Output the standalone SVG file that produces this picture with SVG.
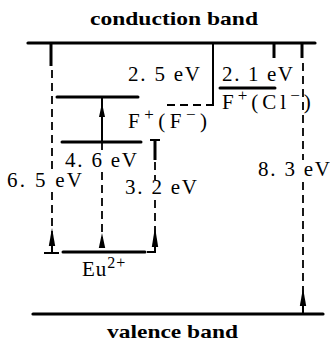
<svg xmlns="http://www.w3.org/2000/svg" width="330" height="350" viewBox="0 0 330 350">
<style>
.band{stroke:#000;stroke-width:3.2;fill:none;stroke-linecap:round}
.lvl{stroke:#000;stroke-width:3;fill:none;stroke-linecap:round}
.solid{stroke:#000;stroke-width:2;fill:none}
.thick{stroke:#000;stroke-width:3;fill:none}
.dash{stroke:#000;stroke-width:1.8;fill:none;stroke-dasharray:8 5}
.ah{fill:#000;stroke:none}
text{font-family:"Liberation Serif","Times New Roman",serif;fill:#000}
.lab{font-size:21px}
.bandt{font-size:19px;font-weight:bold}
</style>
<rect width="330" height="350" fill="#fff"/>
<g id="conduction-band">
<line class="band" x1="28" y1="43" x2="315" y2="43"/>
<text class="bandt" x="90" y="25" textLength="168" lengthAdjust="spacingAndGlyphs">conduction band</text>
</g>
<g id="valence-band">
<line class="band" x1="33" y1="314" x2="323" y2="314"/>
<text class="bandt" x="107" y="338" textLength="131" lengthAdjust="spacingAndGlyphs">valence band</text>
</g>
<g id="level-upper">
<line class="lvl" x1="57" y1="97" x2="138" y2="97"/>
</g>
<g id="level-4-6">
<line class="lvl" x1="62" y1="142" x2="141" y2="142"/>
</g>
<g id="level-eu">
<line class="lvl" x1="63" y1="252" x2="145" y2="252"/>
<text class="lab" x="82" y="276" letter-spacing="1">Eu<tspan font-size="16" dy="-8">2+</tspan></text>
</g>
<g id="level-f-cl">
<line class="lvl" x1="220" y1="88" x2="275" y2="88"/>
<text class="lab" x="222" y="109" letter-spacing="4">F<tspan font-size="17" dy="-8">+</tspan><tspan dy="8">(Cl</tspan><tspan font-size="17" dy="-8">−</tspan><tspan dy="8">)</tspan></text>
</g>
<g id="level-f-f">
<line class="dash" x1="167" y1="105" x2="213" y2="105" style="stroke-width:2.2"/>
<text class="lab" x="128" y="128" letter-spacing="4.5">F<tspan font-size="17" dy="-8">+</tspan><tspan dy="8">(F</tspan><tspan font-size="17" dy="-8">−</tspan><tspan dy="8">)</tspan></text>
</g>
<g id="connectors">
<!-- 6.5 eV -->
<line class="thick" x1="51" y1="43" x2="51" y2="66"/>
<path class="dash" d="M52 70 V172 M52 192 V246"/>
<line class="solid" x1="52" y1="240" x2="52" y2="253"/>
<line class="solid" x1="44" y1="253" x2="59" y2="253"/>
<path class="ah" d="M52 228 L55.2 246 L48.8 246 Z"/>
<!-- 4.6 eV -->
<path class="dash" d="M102 172 V246 M102 142 V150"/>
<path class="ah" d="M102 233 L105.2 248 L98.8 248 Z"/>
<!-- upper transition -->
<line class="solid" x1="102" y1="97" x2="102" y2="142"/>
<path class="ah" d="M102 103 L105 117 L99 117 Z"/>
<!-- 3.2 eV -->
<line class="solid" x1="150" y1="140" x2="160" y2="140"/>
<line class="thick" x1="155" y1="140" x2="155" y2="160"/>
<path class="dash" d="M155 162 V180 M155 200 V246"/>
<path class="ah" d="M155 227 L158.2 247 L151.8 247 Z"/>
<line class="solid" x1="155" y1="245" x2="155" y2="253"/>
<line class="solid" x1="147" y1="252" x2="156" y2="252"/>
<!-- 2.5 eV -->
<line class="solid" x1="213" y1="43" x2="213" y2="106"/>
<!-- 2.1 eV -->
<line class="thick" x1="274" y1="43" x2="274" y2="58"/>
<!-- 8.3 eV -->
<line class="thick" x1="302" y1="43" x2="302" y2="58"/>
<path class="dash" d="M303 63 V160 M303 182 V300"/>
<path class="ah" d="M303 288 L306.2 306 L299.8 306 Z"/>
<line class="solid" x1="303" y1="300" x2="303" y2="314"/>
</g>
<g id="labels">
<text class="lab" x="128" y="81" textLength="72" lengthAdjust="spacing">2. 5 eV</text>
<text class="lab" x="222" y="81" textLength="71" lengthAdjust="spacing">2. 1 eV</text>
<text class="lab" x="65" y="167" textLength="72" lengthAdjust="spacing">4. 6 eV</text>
<text class="lab" x="7" y="187" textLength="75" lengthAdjust="spacing">6. 5 eV</text>
<text class="lab" x="125" y="194" textLength="72" lengthAdjust="spacing">3. 2 eV</text>
<text class="lab" x="258" y="176" textLength="72" lengthAdjust="spacing">8. 3 eV</text>
</g>
</svg>
